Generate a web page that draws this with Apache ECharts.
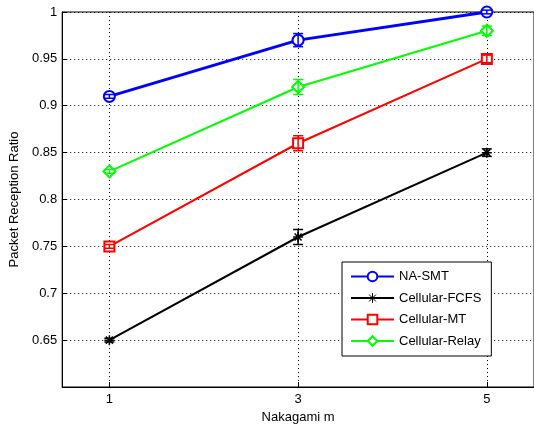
<!DOCTYPE html>
<html>
<head>
<meta charset="utf-8">
<script src="https://cdn.jsdelivr.net/npm/echarts@6/dist/echarts.min.js"></script>
<style>
  html, body { margin: 0; padding: 0; background: #fff; }
  #chart { width: 534px; height: 430px; }
</style>
</head>
<body>
<div id="chart"></div>
<script>
// Nakagami m values
const xValues = [1, 3, 5];
const xTicks = [1, 3, 5];

// packet reception ratio per scheme
const naSmt = [0.91, 0.97, 1.0];
const cellFcfs = [0.65, 0.76, 0.85];
const cellMt = [0.75, 0.86, 0.95];
const cellRelay = [0.83, 0.92, 0.98];

// half-height of error bars
const naSmtErr = [0.002, 0.007, 0.002];
const cellFcfsErr = [0.002, 0.008, 0.004];
const cellMtErr = [0.002, 0.008, 0.004];
const cellRelayErr = [0.002, 0.008, 0.005];

const seriesDefs = [
  { name: "NA-SMT", data: naSmt, err: naSmtErr, color: "#0000ff", symbol: "emptyCircle", size: 11, width: 3 },
  { name: "Cellular-FCFS", data: cellFcfs, err: cellFcfsErr, color: "#000000",
    symbol: "path://M5,0L5,10M0,5L10,5M1.5,1.5L8.5,8.5M1.5,8.5L8.5,1.5", size: 10, width: 2 },
  { name: "Cellular-MT", data: cellMt, err: cellMtErr, color: "#ff0000", symbol: "emptyRect", size: 10, width: 2 },
  { name: "Cellular-Relay", data: cellRelay, err: cellRelayErr, color: "#00ff00", symbol: "emptyDiamond", size: 12, width: 2 },
];

let chart = echarts.init(document.getElementById("chart"));

const font = "'Liberation Sans', Arial, sans-serif";

let series = [];
seriesDefs.forEach((s) => {
  series.push({
    name: s.name,
    type: "line",
    symbol: s.symbol,
    symbolSize: s.size,
    showAllSymbol: true,
    lineStyle: { color: s.color, width: s.width },
    itemStyle: { color: s.color, borderColor: s.color, borderWidth: 1.5 },
    z: 2,
    data: xValues.map((x, i) => [x, s.data[i]]),
  });
  series.push({
    name: s.name + " err",
    type: "custom",
    z: 3,
    encode: { x: 0, y: [1, 2] },
    renderItem: (params, api) => {
      const x = api.value(0);
      const lo = api.coord([x, api.value(1)]);
      const hi = api.coord([x, api.value(2)]);
      const w = 5;
      const st = { stroke: s.color, lineWidth: 1.5 };
      return {
        type: "group",
        children: [
          { type: "line", shape: { x1: lo[0], y1: lo[1], x2: hi[0], y2: hi[1] }, style: st },
          { type: "line", shape: { x1: lo[0] - w, y1: lo[1], x2: lo[0] + w, y2: lo[1] }, style: st },
          { type: "line", shape: { x1: hi[0] - w, y1: hi[1], x2: hi[0] + w, y2: hi[1] }, style: st },
        ],
      };
    },
    data: xValues.map((x, i) => [x, s.data[i] - s.err[i], s.data[i] + s.err[i]]),
  });
});

let option = {
  backgroundColor: "#fff",
  animation: false,
  textStyle: { fontFamily: font },
  grid: {
    left: 62,
    top: 12,
    right: -3,
    bottom: 43,
    show: true,
    borderColor: "#000",
    borderWidth: 1,
    backgroundColor: "#fff",
  },
  legend: {
    data: seriesDefs.map((s) => s.name),
    orient: "vertical",
    left: 342,
    top: 262,
    itemWidth: 43,
    itemHeight: 12,
    itemGap: 8.5,
    padding: [8, 10, 8.5, 8],
    backgroundColor: "#fff",
    borderColor: "#000",
    borderWidth: 1,
    borderRadius: 0,
    itemStyle: { borderWidth: 1 },
    lineStyle: { width: 2 },
    textStyle: { fontFamily: font, fontSize: 13, color: "#000", padding: [0, 0, 0, 0] },
  },
  xAxis: {
    type: "value",
    min: 0.5,
    max: 5.5,
    name: "Nakagami m",
    nameLocation: "middle",
    nameGap: 22,
    nameTextStyle: { fontFamily: font, fontSize: 13, color: "#000" },
    axisLine: { show: true, lineStyle: { color: "#000", width: 1 } },
    axisTick: { show: true, inside: true, length: 5, customValues: xTicks, lineStyle: { color: "#000" } },
    axisLabel: { customValues: xTicks, fontFamily: font, fontSize: 13, color: "#000", margin: 6 },
    splitLine: { show: true, lineStyle: { color: "#000", type: [1, 3], width: 1 } },
  },
  yAxis: {
    type: "value",
    min: 0.6,
    max: 1,
    interval: 0.05,
    name: "Packet Reception Ratio",
    nameLocation: "middle",
    nameGap: 32,
    nameTextStyle: { fontFamily: font, fontSize: 13, color: "#000" },
    axisLine: { show: true, lineStyle: { color: "#000", width: 1 } },
    axisTick: { show: true, inside: true, length: 5, lineStyle: { color: "#000" } },
    axisLabel: { showMinLabel: false, fontFamily: font, fontSize: 13, color: "#000", margin: 5 },
    splitLine: { show: true, lineStyle: { color: "#000", type: [1, 3], width: 1 } },
  },
  series: series,
};

chart.setOption(option);
</script>
</body>
</html>
